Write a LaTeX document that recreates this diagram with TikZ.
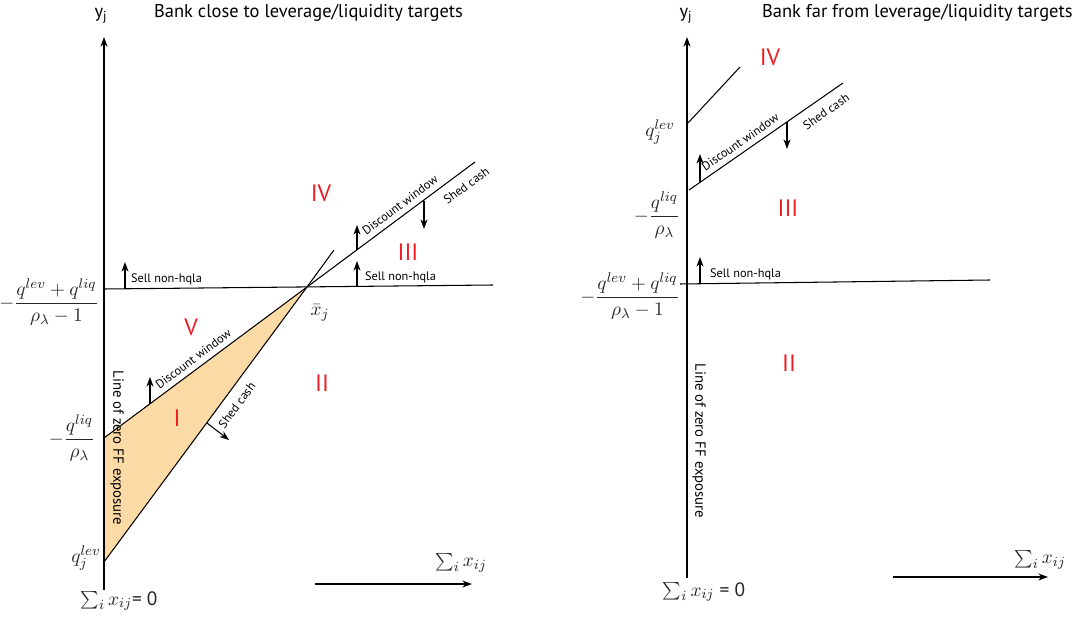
\documentclass[tikz,border=0pt]{standalone}
\usepackage{fontspec}
\setmainfont{PT Sans}
\usetikzlibrary{arrows.meta,positioning}
\definecolor{regred}{RGB}{237,28,36}
\definecolor{wedge}{RGB}{252,218,166}
\tikzset{>={Stealth[length=5.5pt,width=4pt]},
  ax/.style={line width=0.7pt},
  bd/.style={line width=0.6pt},
  push/.style={->,line width=0.6pt},
  el/.style={font=\fontsize{7}{8}\selectfont,inner sep=1pt},
  reg/.style={text=regred,font=\fontsize{13.5}{15}\selectfont},
  ttl/.style={font=\fontsize{10.5}{12}\selectfont},
  ml/.style={text=black!85,font=\fontsize{11}{13}\selectfont},
  zline/.style={font=\fontsize{8.4}{9}\selectfont,rotate=-90},
}
\begin{document}
\begin{tikzpicture}[x=0.02cm,y=-0.02cm]
\useasboundingbox (0,0) rectangle (1081,621);
% left panel: bank close to targets
\coordinate (lO) at (104,590);
\coordinate (lTop) at (104,37);
\coordinate (lH0) at (104,289);
\coordinate (lH1) at (493,285);
\coordinate (lxb) at (307,287);
\coordinate (lDW0) at (104,438);
\coordinate (lDW1) at (475,162);
\coordinate (lSC0) at (104,562);
\coordinate (lSC1) at (334,250);

\fill[wedge] (lDW0) -- (lxb) -- (lSC0) -- cycle;
\draw[ax,->] (lO) -- (lTop);
\draw[bd] (lH0) -- (lH1);
\draw[bd] (lDW0) -- node[el,sloped,above=2pt,pos=.47] (lDWl) {Discount window} (lxb);
\draw[bd] (lxb) -- node[el,sloped,above=2pt,pos=.59] (uDWl) {Discount window}
  node[el,sloped,below=4pt,pos=.9] (uSCl) {Shed cash} (lDW1);
\draw[bd] (lSC0) -- node[el,sloped,below=4pt,pos=.6] (lSCl) {Shed cash} (lxb) -- (lSC1);

% pushes
\coordinate (lSNa) at (125,289); \coordinate (lSNt) at (125,262);
\coordinate (lDWa) at (150,404); \coordinate (lDWt) at (150,377);
\coordinate (lSCa) at (207,423); \coordinate (lSCt) at (229,440);
\coordinate (uSNa) at (357,287); \coordinate (uSNt) at (357,261);
\coordinate (uDWa) at (357,250); \coordinate (uDWt) at (357,225);
\coordinate (uSCa) at (424,201); \coordinate (uSCt) at (424,229);
\draw[push] (lSNa) -- (lSNt);
\draw[push] (lDWa) -- (lDWt);
\draw[push] (lSCa) -- (lSCt);
\draw[push] (uSNa) -- (uSNt);
\draw[push] (uDWa) -- (uDWt);
\draw[push] (uSCa) -- (uSCt);
\node[el,anchor=south west] (lSNl) at (129,287) {Sell non-hqla};
\node[el,anchor=south west] (uSNl) at (363,285) {Sell non-hqla};

% labels
\node[ttl] (lyj) at (101,16) {y\textsubscript{j}};
\node[ttl,anchor=west] (ltitle) at (148,13) {Bank close to leverage/liquidity targets};
\node[ml] (lqq) at (49,302) {$-\displaystyle\frac{q^{lev}+q^{liq}}{\rho_\lambda-1}$};
\node[ml] (lql) at (72,438) {$-\displaystyle\frac{q^{liq}}{\rho_\lambda}$};
\node[ml] (lqv) at (86,558) {$q_j^{lev}$};
\node[ml] (lxbl) at (320,313) {$\bar{x}_j$};
\node[zline] (lzero) at (117,448) {Line of zero FF exposure};
\node[ml] (lsum0) at (119,601) {$\sum_i x_{ij}$= 0};

\node[reg] (lIV) at (321,193) {IV};
\node[reg] (lIII) at (408,252) {III};
\node[reg] (lV) at (191,327) {V};
\node[reg] (lII) at (322,383) {II};
\node[reg] (lI) at (177,418) {I};

\coordinate (lXa) at (315,584); \coordinate (lXt) at (472,584);
\draw[ax,->] (lXa) -- (lXt);
\node[ml] (lXl) at (461,563) {$\sum_i x_{ij}$};

% right panel: bank far from targets
\coordinate (rO) at (687,578);
\coordinate (rTop) at (687,37);
\coordinate (rH0) at (680,284);
\coordinate (rH1) at (990,280);
\coordinate (rIV0) at (688,123);
\coordinate (rIV1) at (740,67);
\coordinate (rDW0) at (689,190);
\coordinate (rDW1) at (843,83);

\draw[ax,->] (rO) -- (rTop);
\draw[bd] (rH0) -- (rH1);
\draw[bd] (rIV0) -- (rIV1);
\draw[bd] (rDW0) -- node[el,sloped,above=2pt,pos=.37] (rDWl) {Discount window}
  node[el,sloped,below=4pt,pos=.84] (rSCl) {Shed cash} (rDW1);

\coordinate (rSNa) at (700,284); \coordinate (rSNt) at (700,257);
\coordinate (rDWa) at (700,182); \coordinate (rDWt) at (700,154);
\coordinate (rSCa) at (787,122); \coordinate (rSCt) at (787,149);
\draw[push] (rSNa) -- (rSNt);
\draw[push] (rDWa) -- (rDWt);
\draw[push] (rSCa) -- (rSCt);
\node[el,anchor=south west] (rSNl) at (708,282) {Sell non-hqla};

\node[ttl] (ryj) at (686,16) {y\textsubscript{j}};
\node[ttl,anchor=west] (rtitle) at (756,13) {Bank far from leverage/liquidity targets};
\node[ml] (rqq) at (630,296) {$-\displaystyle\frac{q^{lev}+q^{liq}}{\rho_\lambda-1}$};
\node[ml] (rql) at (657,215) {$-\displaystyle\frac{q^{liq}}{\rho_\lambda}$};
\node[ml] (rqv) at (660,132) {$q_j^{lev}$};
\node[zline] (rzero) at (699,441) {Line of zero FF exposure};
\node[ml] (rsum0) at (704,592) {$\sum_i x_{ij}$ = 0};

\node[reg] (rIV) at (770,57) {IV};
\node[reg] (rIII) at (788,208) {III};
\node[reg] (rII) at (789,363) {II};

\coordinate (rXa) at (893,577); \coordinate (rXt) at (1048,577);
\draw[ax,->] (rXa) -- (rXt);
\node[ml] (rXl) at (1040,560) {$\sum_i x_{ij}$};
\end{tikzpicture}
\end{document}
